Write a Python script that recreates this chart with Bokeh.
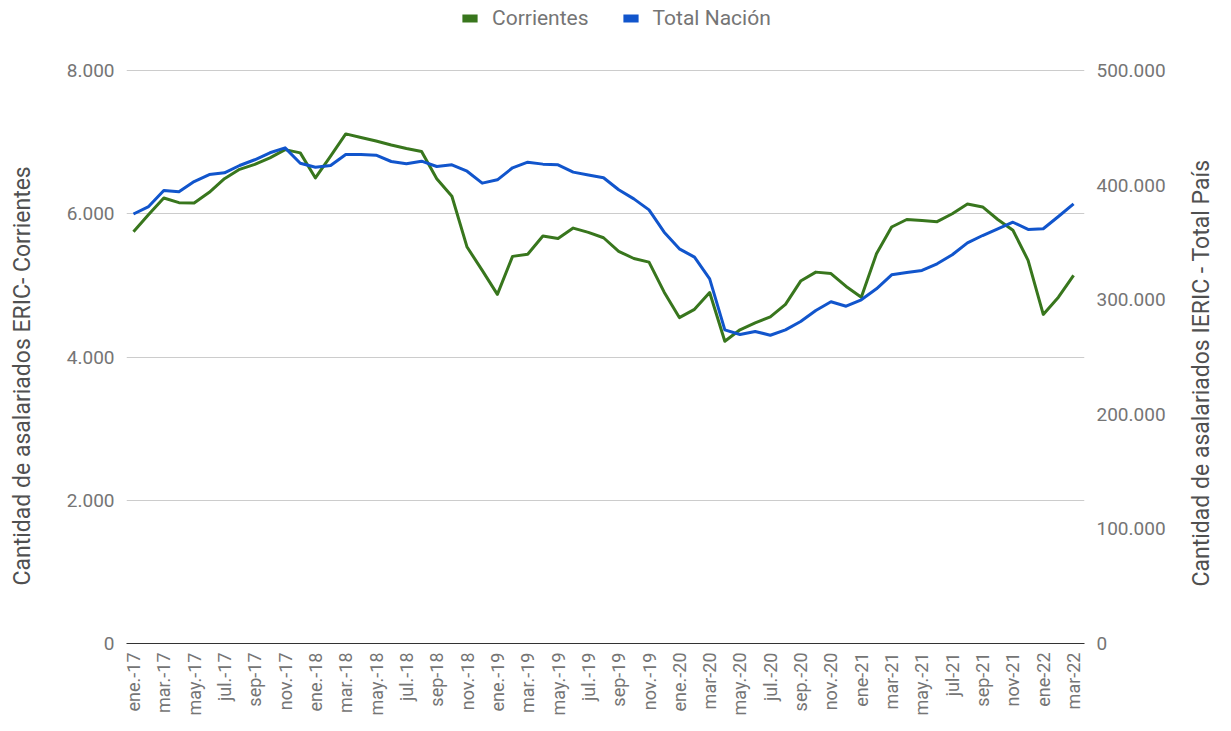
from bokeh.plotting import figure
from bokeh.models import Range1d, LinearAxis, FixedTicker, Legend, LegendItem, ColumnDataSource
from bokeh.embed import file_html
from bokeh.resources import INLINE
import math

tick_labels = ["ene.-17", "mar.-17", "may.-17", "jul.-17", "sep-17", "nov.-17",
               "ene.-18", "mar.-18", "may.-18", "jul.-18", "sep-18", "nov.-18",
               "ene.-19", "mar.-19", "may.-19", "jul.-19", "sep-19", "nov.-19",
               "ene.-20", "mar-20", "may.-20", "jul.-20", "sep.-20", "nov.-20",
               "ene-21", "mar-21", "may.-21", "jul-21", "sep-21", "nov-21",
               "ene-22", "mar-22"]

corrientes = [5750, 5990, 6220, 6155, 6150, 6300, 6490, 6620, 6690, 6780,
              6895, 6850, 6500, 6805, 7115, 7065, 7015, 6960, 6910, 6870,
              6490, 6245, 5535, 5210, 4875, 5405, 5435, 5690, 5655, 5800,
              5740, 5665, 5475, 5375, 5325, 4905, 4550, 4665, 4900, 4220,
              4380, 4475, 4560, 4735, 5060, 5185, 5165, 4985, 4835, 5440,
              5815, 5920, 5905, 5890, 6000, 6135, 6095, 5920, 5770, 5350,
              4595, 4835, 5140]

total_nacion = [374800, 381300, 395300, 394100, 403100, 409200, 410700, 417100, 422100, 428200,
                432500, 419100, 415600, 417100, 426700, 426700, 426100, 420600, 418600, 420900,
                416200, 417700, 412100, 401700, 404600, 415100, 420000, 418300, 417700, 411300,
                408800, 406400, 395900, 388000, 378400, 358900, 344400, 337100, 318200, 273700,
                269600, 272300, 269000, 273700, 281000, 290600, 298200, 294300, 299900, 309500,
                321700, 323700, 325500, 331300, 339200, 349600, 356000, 361900, 367600, 361300,
                361900, 372600, 383700]

left_ticks = [0, 2000, 4000, 6000, 8000]
right_ticks = [0, 100000, 200000, 300000, 400000, 500000]

series_names = ["Corrientes", "Total Nación"]
colors = ["#38761d", "#1155cc"]
left_title = "Cantidad de asalariados ERIC- Corrientes"
right_title = "Cantidad de asalariados IERIC - Total País"

FONT = "Roboto"
TEXT = "#757575"
TITLE_COLOR = "#505050"

# layout (page pixels)
W, H = 1231, 728
FRAME_L, FRAME_R, FRAME_T, FRAME_B = 126, 1085, 5, 643
GRID_TOP_Y = 70  # pixel row of the top tick (8.000 / 500.000)
scale = (FRAME_B - FRAME_T) / (FRAME_B - GRID_TOP_Y)
NBSP = "\u00a0"


def fmt(v):
    return "{:,}".format(v).replace(",", ".")


x = list(range(len(corrientes)))
src = ColumnDataSource(dict(x=x, c=corrientes, t=total_nacion))

p = figure(width=W, height=H, output_backend="svg", toolbar_location=None, title=None,
           x_range=Range1d(-0.46, len(corrientes) - 1 + 0.72),
           y_range=Range1d(0, left_ticks[-1] * scale),
           min_border_left=FRAME_L, min_border_right=W - FRAME_R,
           min_border_top=FRAME_T, min_border_bottom=H - FRAME_B)
p.extra_y_ranges = {"right": Range1d(0, right_ticks[-1] * scale)}
p.outline_line_color = None
p.xgrid.grid_line_color = None
p.ygrid.grid_line_color = "#cccccc"
p.ygrid.ticker = FixedTicker(ticks=left_ticks)
p.background_fill_color = "white"
p.border_fill_color = "white"

# x axis
xa = p.xaxis[0]
xa.ticker = FixedTicker(ticks=list(range(0, len(corrientes), 2)))
xa.major_label_overrides = {i * 2: lab for i, lab in enumerate(tick_labels)}
xa.major_label_orientation = math.pi / 2
xa.major_tick_line_color = None
xa.major_tick_out = 0
xa.major_tick_in = 0
xa.minor_tick_line_color = None
xa.minor_tick_out = 0
xa.axis_line_color = "#333333"
xa.major_label_standoff = 9
xa.major_label_text_font = FONT
xa.major_label_text_font_size = "18px"
xa.major_label_text_color = TEXT


def style_y(ax, ticks, title, standoff):
    ax.ticker = FixedTicker(ticks=ticks)
    ax.major_label_overrides = {v: fmt(v) for v in ticks}
    ax.axis_line_color = None
    ax.major_tick_line_color = None
    ax.minor_tick_line_color = None
    ax.major_tick_out = 0
    ax.major_tick_in = 0
    ax.minor_tick_out = 0
    ax.major_label_standoff = 12
    ax.major_label_text_font = FONT
    ax.major_label_text_font_size = "19px"
    ax.major_label_text_color = TEXT
    ax.axis_label = title
    ax.axis_label_text_font = FONT
    ax.axis_label_text_font_size = "23px"
    ax.axis_label_text_font_style = "normal"
    ax.axis_label_text_color = TITLE_COLOR
    ax.axis_label_standoff = standoff


# left title: centred on the plot frame, padded so it sits lower, as in the reference
style_y(p.yaxis[0], left_ticks, left_title + NBSP * 18, 28)

ry = LinearAxis(y_range_name="right")
props = ry.properties()
if "axis_label_align" in props and "axis_label_orientation" in props:
    # read bottom-to-top, starting near the bottom of the frame
    style_y(ry, right_ticks, NBSP * 10 + right_title, 33)
    ry.axis_label_orientation = math.pi / 2
    ry.axis_label_align = "start"
else:
    style_y(ry, right_ticks, NBSP * 18 + right_title, 31)
p.add_layout(ry, "right")

p.line("x", "c", source=src, line_color=colors[0], line_width=3, line_join="round")
p.line("x", "t", source=src, line_color=colors[1], line_width=3, line_join="round",
       y_range_name="right")

# legend swatches (one NaN row: nothing drawn in the plot, only in the legend)
nan = float("nan")
sw0 = p.quad(left=[nan], right=[nan], top=[nan], bottom=[nan], fill_color=colors[0], line_color=None)
sw1 = p.quad(left=[nan], right=[nan], top=[nan], bottom=[nan], fill_color=colors[1], line_color=None)

legend = Legend(items=[LegendItem(label=series_names[0], renderers=[sw0]),
                       LegendItem(label=series_names[1], renderers=[sw1])],
                orientation="horizontal", location=(334, 613),
                glyph_width=19, glyph_height=10, label_standoff=13, spacing=32,
                padding=0, margin=0, border_line_color=None, background_fill_alpha=0,
                label_text_font=FONT, label_text_font_size="21px", label_text_color=TEXT)
p.add_layout(legend, "center")

open("out.html", "w").write(file_html(p, INLINE))
